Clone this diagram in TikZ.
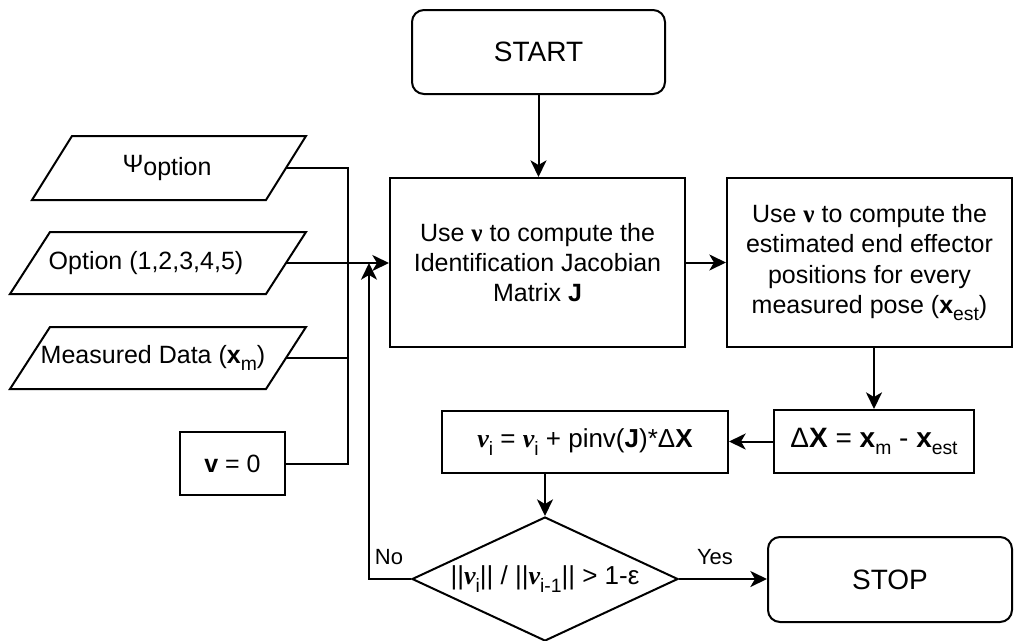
\documentclass[tikz,border=0pt]{standalone}
\usepackage{fontspec}
\setmainfont{Liberation Sans}
\newfontfamily\serifnu{Liberation Serif}
\usetikzlibrary{arrows.meta,shapes.geometric,calc}
\newcommand{\bnu}{{\serifnu\bfseries ν}}
\newcommand{\bnui}{{\serifnu\bfseries\itshape ν}}
\newcommand{\sbs}[1]{\raisebox{-0.28em}{\fontsize{14.5}{14.5}\selectfont #1}}
\begin{document}
\begin{tikzpicture}[x=0.75pt,y=-0.75pt, line width=1.5pt,
  font=\fontsize{18.75}{22.8}\selectfont,
  >={Stealth[length=12.5pt,width=12pt,inset=3.5pt]},
  box/.style={draw, rectangle, inner sep=0pt, align=center},
  rbox/.style={box, rounded corners=9pt},
  lbl/.style={font=\fontsize{16.5}{18}\selectfont, inner sep=0pt},
  para/.style={draw, line join=miter}]
\useasboundingbox (0,0) rectangle (1014,640);

% inputs
\draw[para] (32,200) -- (72,136) -- (306,136) -- (266,200) -- cycle;
\node (psi) at (167,168) {Ψ\raisebox{-0.12em}{option}};
\coordinate (psi-r) at (286,168);

\draw[para] (10,294) -- (50,232) -- (306,232) -- (266,294) -- cycle;
\node (opt) at (146,263) {Option (1,2,3,4,5)};
\coordinate (opt-r) at (286,263);

\draw[para] (10,389) -- (50,327) -- (306,327) -- (266,389) -- cycle;
\node (meas) at (153,358) {Measured Data (\textbf{x}\sbs{m})};
\coordinate (meas-r) at (286,358);

\node[box, minimum width=78.75pt, minimum height=47.25pt] (v0) at (232.5,463.5) {\textbf{v} = 0};

% main flow
\node[rbox, minimum width=189.75pt, minimum height=63pt, font=\fontsize{21}{24}\selectfont] (start) at (538.5,52) {START};
\node[box, minimum width=221.25pt, minimum height=126.75pt] (b1) at (537.5,262.5)
  {Use \bnu{} to compute the\\Identification Jacobian\\Matrix \textbf{J}};
\node[box, minimum width=213.75pt, minimum height=126.75pt] (b2) at (869.5,262.5)
  {Use \bnu{} to compute the\\estimated end effector\\positions for every\\measured pose (\textbf{x}\sbs{est})};
\node[box, minimum width=150pt, minimum height=47.25pt, font=\fontsize{21}{23}\selectfont] (dx) at (874,441.5)
  {Δ\textbf{X} = \textbf{x}\sbs{m} - \textbf{x}\sbs{est}};
\node[box, minimum width=214.5pt, minimum height=46.5pt, font=\fontsize{19.5}{22}\selectfont] (vi) at (585,442)
  {\bnui\sbs{i} = \bnui\sbs{i} + pinv(\textbf{J})*Δ\textbf{X}};
\node[diamond, draw, minimum width=199.5pt, minimum height=93pt, inner sep=0pt] (dia) at (545,579) {};
\node[inner sep=0pt, font=\fontsize{19.5}{22}\selectfont] (diatext) at (dia.center) {||\bnui\sbs{i}|| / ||\bnui\sbs{i-1}|| > 1-ε};
\node[rbox, minimum width=183pt, minimum height=63.75pt, font=\fontsize{21}{24}\selectfont] (stop) at (890,579.5) {STOP};

% labels
\node[lbl] (no) at (389,557) {No};
\node[lbl] (yes) at (715,557) {Yes};

% connectors
\coordinate (bus) at (348,0);
\coordinate (fb) at (369,579);
\draw (psi-r) -- (psi-r -| bus) -- (v0.east -| bus) -- (v0.east);
\draw (meas-r) -- (meas-r -| bus);
\draw[->] (opt-r) -- (opt-r -| b1.west);
\draw[->] (dia.west) -- (fb) -- (fb |- opt-r);
\draw[->] (start.south) -- (start.south |- b1.north);
\draw[->] (b1.east) -- (b2.west);
\draw[->] (b2.south -| dx.north) -- (dx.north);
\draw[->] (dx.west) -- (vi.east |- dx.west);
\draw[->] (vi.south -| dia.north) -- (dia.north);
\draw[->] (dia.east) -- (stop.west |- dia.east);
\end{tikzpicture}
\end{document}
